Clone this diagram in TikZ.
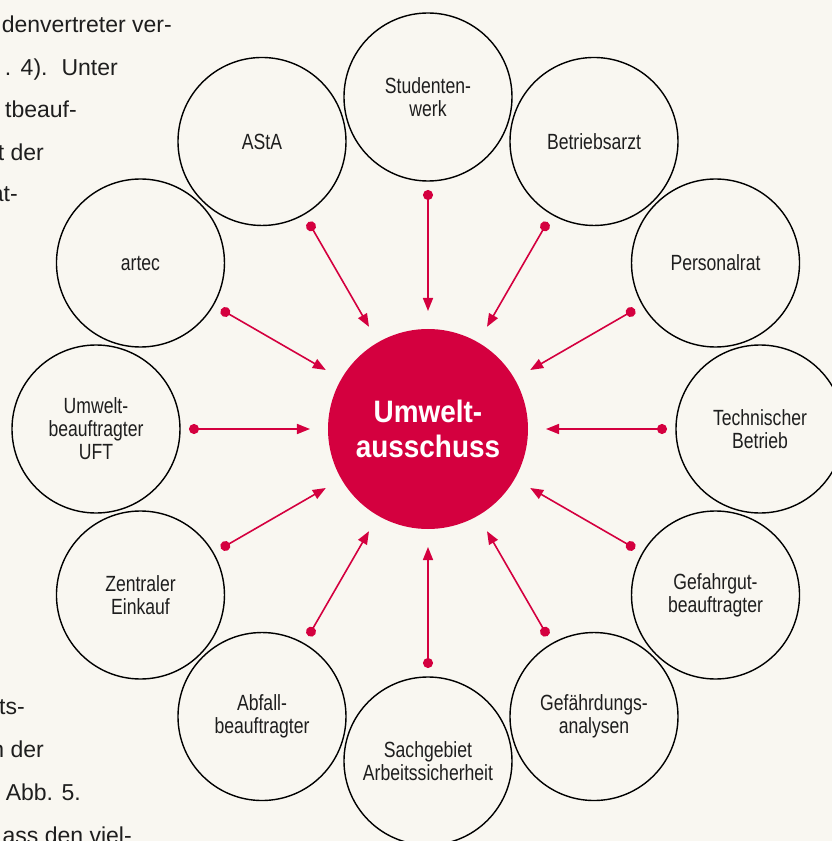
\documentclass[tikz,border=0pt]{standalone}
\usepackage{fontspec}
\setmainfont{Liberation Sans}
\newfontfamily\schmalfont{Liberation Sans}[FakeStretch=0.8]
\newfontfamily\hubfont{Liberation Sans Bold}[FakeStretch=0.9]
\usepackage{tikz}
\usetikzlibrary{arrows.meta}
\definecolor{umweltrot}{HTML}{D4003F}
\definecolor{papier}{HTML}{F9F7F1}
\definecolor{druck}{HTML}{1E1E1E}

\begin{document}
\begin{tikzpicture}[x=1pt,y=1pt,
        gremium/.style={circle,draw=black,line width=1.4pt,minimum size=168pt,inner sep=0pt,outer sep=0pt,
            align=center,text=druck,font=\schmalfont\fontsize{22}{23}\selectfont},
        ausschuss/.style={circle,fill=umweltrot,minimum size=200pt,inner sep=0pt,outer sep=0pt,
            align=center,text=white,font=\hubfont\fontsize{31}{35}\selectfont},
        zuleitung/.style={umweltrot,line width=1.6pt,{Circle[length=10pt]}-{Triangle[length=13pt,width=10pt]},
            shorten <=9pt,shorten >=18pt},
        satz/.style={anchor=base east,inner sep=0pt,text=druck,font=\fontsize{23}{28}\selectfont}]
    \path[use as bounding box,fill=papier] (-428,-412) rectangle (404,429);

    % Textspalte links
    \node[satz] (t1) at (-256,396) {denvertreter ver-};
    \node[satz] (t2) at (-310,353) {.\hspace{9.5pt}4).\hspace{14pt}Unter};
    \node[satz] (t3) at (-351,311) {tbeauf-};
    \node[satz] (t4) at (-384,268) {t der};
    \node[satz] (t5) at (-410,227) {at-};
    \node[satz] (t6) at (-403,-285) {ts-};
    \node[satz] (t7) at (-384,-328) {n der};
    \node[satz] (t8) at (-347,-371) {Abb. 5.};
    \node[satz] (t9) at (-296,-414) {ass den viel-};

    % Ausschuss und Gremien
    \node[ausschuss] (hub) at (0,0) {Umwelt-\\ausschuss};
    \node[gremium] (studentenwerk) at (90:332) {Studenten-\\werk};
    \node[gremium] (arzt) at (60:332) {Betriebsarzt};
    \node[gremium] (personalrat) at (30:332) {Personalrat};
    \node[gremium] (technik) at (0:332) {Technischer\\Betrieb};
    \node[gremium] (gefahrgut) at (-30:332) {Gefahrgut-\\beauftragter};
    \node[gremium] (analysen) at (-60:332) {Gefährdungs-\\analysen};
    \node[gremium] (sicherheit) at (-90:332) {Sachgebiet\\Arbeitssicherheit};
    \node[gremium] (abfall) at (-120:332) {Abfall-\\beauftragter};
    \node[gremium] (einkauf) at (-150:332) {Zentraler\\Einkauf};
    \node[gremium] (uft) at (180:332) {Umwelt-\\beauftragter\\UFT};
    \node[gremium] (artec) at (150:332) {artec};
    \node[gremium] (asta) at (120:332) {AStA};

    \draw[zuleitung] (studentenwerk) -- (hub);
    \draw[zuleitung] (arzt) -- (hub);
    \draw[zuleitung] (personalrat) -- (hub);
    \draw[zuleitung] (technik) -- (hub);
    \draw[zuleitung] (gefahrgut) -- (hub);
    \draw[zuleitung] (analysen) -- (hub);
    \draw[zuleitung] (sicherheit) -- (hub);
    \draw[zuleitung] (abfall) -- (hub);
    \draw[zuleitung] (einkauf) -- (hub);
    \draw[zuleitung] (uft) -- (hub);
    \draw[zuleitung] (artec) -- (hub);
    \draw[zuleitung] (asta) -- (hub);
\end{tikzpicture}
\end{document}
